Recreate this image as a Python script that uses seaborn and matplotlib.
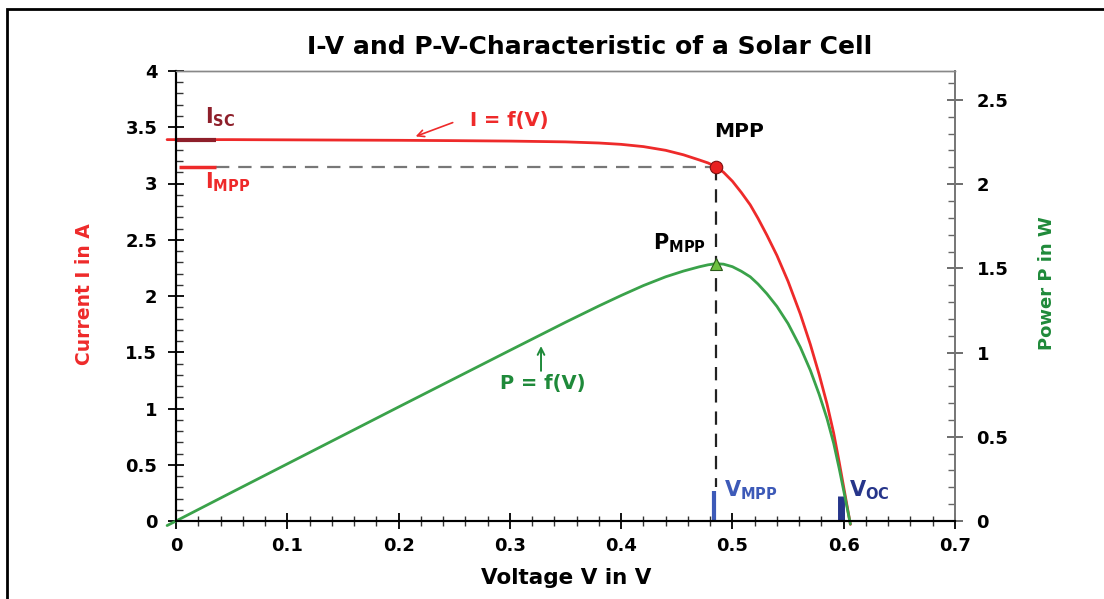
import matplotlib
matplotlib.use("Agg")
import matplotlib.pyplot as plt
import seaborn as sns
import pandas as pd
from matplotlib.patches import Rectangle
from matplotlib.ticker import MultipleLocator

# ---------------- data ----------------
voltage = [-0.008, 0.0, 0.05, 0.1, 0.15, 0.2, 0.25, 0.3, 0.35, 0.38, 0.40, 0.42, 0.44,
           0.456, 0.47, 0.478, 0.485, 0.492, 0.50, 0.508, 0.516, 0.523, 0.531, 0.54,
           0.55, 0.561, 0.57, 0.578, 0.585, 0.591, 0.596, 0.600, 0.604, 0.606]
current = [3.39, 3.39, 3.39, 3.388, 3.386, 3.384, 3.381, 3.377, 3.37, 3.36, 3.348, 3.328, 3.295,
           3.255, 3.21, 3.183, 3.15, 3.10, 3.02, 2.92, 2.81, 2.69, 2.54, 2.36,
           2.13, 1.84, 1.57, 1.30, 1.04, 0.78, 0.52, 0.30, 0.08, -0.03]
power = [-0.027, 0.0, 0.170, 0.339, 0.508, 0.677, 0.845, 1.013, 1.180, 1.277, 1.339, 1.398, 1.450,
         1.484, 1.509, 1.521, 1.528, 1.525, 1.510, 1.483, 1.450, 1.407, 1.349, 1.274,
         1.172, 1.032, 0.895, 0.751, 0.608, 0.461, 0.310, 0.180, 0.048, -0.018]

v_mpp, i_mpp, p_mpp = 0.485, 3.15, 1.528
i_sc, v_oc = 3.39, 0.598

x_ticks = [0, 0.1, 0.2, 0.3, 0.4, 0.5, 0.6, 0.7]
x_tick_labels = ["0", "0.1", "0.2", "0.3", "0.4", "0.5", "0.6", "0.7"]
yl_ticks = [0, 0.5, 1, 1.5, 2, 2.5, 3, 3.5, 4]
yl_tick_labels = ["0", "0.5", "1", "1.5", "2", "2.5", "3", "3.5", "4"]
yr_ticks = [0, 0.5, 1, 1.5, 2, 2.5]
yr_tick_labels = ["0", "0.5", "1", "1.5", "2", "2.5"]

df = pd.DataFrame({"V": voltage, "I": current, "P": power})

# ---------------- style ----------------
sns.set_theme(style="white")
plt.rcParams["font.family"] = ["DejaVu Sans"]
plt.rcParams["mathtext.fontset"] = "dejavusans"
plt.rcParams["text.color"] = "black"

RED = "#ee2a2a"
GREEN = "#3aa24a"
GREEN_TXT = "#1f8a3a"
DARKRED = "#8e1f2a"
BLUE = "#3d5ab8"
NAVY = "#26358a"

fig = plt.figure(figsize=(11.04, 5.99), dpi=100)
ax = fig.add_axes([176 / 1104, 1 - 521 / 599, (955 - 176) / 1104, (521 - 71) / 599])
ax2 = ax.twinx()

# curves
sns.lineplot(data=df, x="V", y="I", ax=ax, color=RED, lw=2.0, estimator=None, sort=False)
sns.lineplot(data=df, x="V", y="P", ax=ax2, color=GREEN, lw=2.0, estimator=None, sort=False)
for ln in ax.lines + ax2.lines:
    ln.set_clip_on(False)
    ln.set_solid_joinstyle("round")

ax.set_xlim(0, 0.7)
ax.set_ylim(0, 4)
ax2.set_ylim(0, 2.672)

# reference lines
ax.plot([0.036, v_mpp], [i_mpp, i_mpp], color="#777777", lw=1.6, dashes=(6, 4))
ax.plot([v_mpp, v_mpp], [i_mpp, 0.3], color="#222222", lw=1.6, dashes=(6, 4))
ax.plot([0.0, 0.036], [i_sc, i_sc], color=DARKRED, lw=3.0, solid_capstyle="butt", clip_on=False)
ax.plot([0.003, 0.036], [i_mpp, i_mpp], color=RED, lw=2.5, solid_capstyle="butt")
ax.plot([0.483, 0.483], [0.0, 0.27], color=BLUE, lw=3.0, solid_capstyle="butt")
ax.plot([v_oc, v_oc], [0.0, 0.22], color=NAVY, lw=5.0, solid_capstyle="butt")

# markers
ax.plot([v_mpp], [i_mpp], marker="o", ms=9, mfc="#e82020", mec="#801010", mew=0.8, zorder=6)
ax2.plot([v_mpp], [p_mpp], marker="^", ms=8, mfc="#6ec040", mec="#2a5a1a", mew=0.8, zorder=6)

# annotations
ax.text(0.026, 3.59, r"$\mathbf{I_{SC}}$", color=DARKRED, fontsize=15, ha="left", va="center")
ax.text(0.026, 3.01, r"$\mathbf{I_{MPP}}$", color=RED, fontsize=15, ha="left", va="center")
ax.text(0.264, 3.56, "I = f(V)", color=RED, fontsize=14, fontweight="bold", ha="left", va="center")
ax.annotate("", xy=(0.213, 3.41), xytext=(0.251, 3.55),
            arrowprops=dict(arrowstyle="->", color=RED, lw=1.2))
ax.text(0.506, 3.46, "MPP", color="black", fontsize=14.5, fontweight="bold", ha="center", va="center")
ax.text(0.476, 2.47, r"$\mathbf{P_{MPP}}$", color="black", fontsize=15, ha="right", va="center")
ax.text(0.33, 1.22, "P = f(V)", color=GREEN_TXT, fontsize=14, fontweight="bold", ha="center", va="center")
ax.annotate("", xy=(0.328, 1.58), xytext=(0.328, 1.31),
            arrowprops=dict(arrowstyle="->", color=GREEN_TXT, lw=1.4))
ax.text(0.492, 0.27, r"$\mathbf{V_{MPP}}$", color=BLUE, fontsize=15, ha="left", va="center")
ax.text(0.605, 0.27, r"$\mathbf{V_{OC}}$", color=NAVY, fontsize=15, ha="left", va="center")

# ticks
ax.set_xticks(x_ticks)
ax.set_xticklabels(x_tick_labels, fontweight="bold", fontsize=13)
ax.set_yticks(yl_ticks)
ax.set_yticklabels(yl_tick_labels, fontweight="bold", fontsize=13)
ax2.set_yticks(yr_ticks)
ax2.set_yticklabels(yr_tick_labels, fontweight="bold", fontsize=13)
ax.xaxis.set_minor_locator(MultipleLocator(0.02))
ax.yaxis.set_minor_locator(MultipleLocator(0.1))
ax2.yaxis.set_minor_locator(MultipleLocator(0.1))

ax.tick_params(axis="x", which="major", direction="inout", length=11, width=1.3, colors="black", pad=6)
ax.tick_params(axis="x", which="minor", direction="inout", length=7, width=1.0, colors="#333333")
ax.tick_params(axis="y", which="major", direction="inout", length=11, width=1.3, colors="black", pad=8)
ax.tick_params(axis="y", which="minor", direction="in", length=5, width=1.0, colors="#333333")
ax2.tick_params(axis="y", which="major", direction="inout", length=11, width=1.2, colors="#555555",
                labelcolor="black", pad=10)
ax2.tick_params(axis="y", which="minor", direction="in", length=5, width=1.0, colors="#666666")
ax.tick_params(bottom=True, left=True, which="both")
ax.tick_params(which="both", labelcolor="black")

for a in (ax, ax2):
    a.spines["top"].set_color("#888888")
    a.spines["top"].set_linewidth(1.0)
    a.spines["right"].set_color("#777777")
    a.spines["right"].set_linewidth(1.3)
    a.spines["left"].set_color("black")
    a.spines["left"].set_linewidth(1.5)
    a.spines["bottom"].set_color("black")
    a.spines["bottom"].set_linewidth(1.5)

ax.set_xlabel("")
ax.set_ylabel("")
ax2.set_ylabel("")

# titles / labels in figure coordinates
fig.text(590 / 1104, 1 - 47 / 599, "I-V and P-V-Characteristic of a Solar Cell",
         ha="center", va="center", fontsize=18, fontweight="bold", color="black")
fig.text(566 / 1104, 1 - 578 / 599, "Voltage V in V", ha="center", va="center",
         fontsize=15.5, fontweight="bold", color="black")
fig.text(85 / 1104, 1 - 294 / 599, "Current I in A", ha="center", va="center",
         fontsize=13.5, fontweight="bold", color=RED, rotation=90)
fig.text(1047 / 1104, 1 - 283 / 599, "Power P in W", ha="center", va="center",
         fontsize=13, fontweight="bold", color=GREEN_TXT, rotation=90)

# outer frame (right and bottom edges lie beyond the canvas)
fig.add_artist(Rectangle((7 / 1104, -0.2), 1.2, 1.2 - 9 / 599, transform=fig.transFigure,
                         fill=False, ec="black", lw=2.0, clip_on=False))

fig.savefig("out.png", dpi=100)
